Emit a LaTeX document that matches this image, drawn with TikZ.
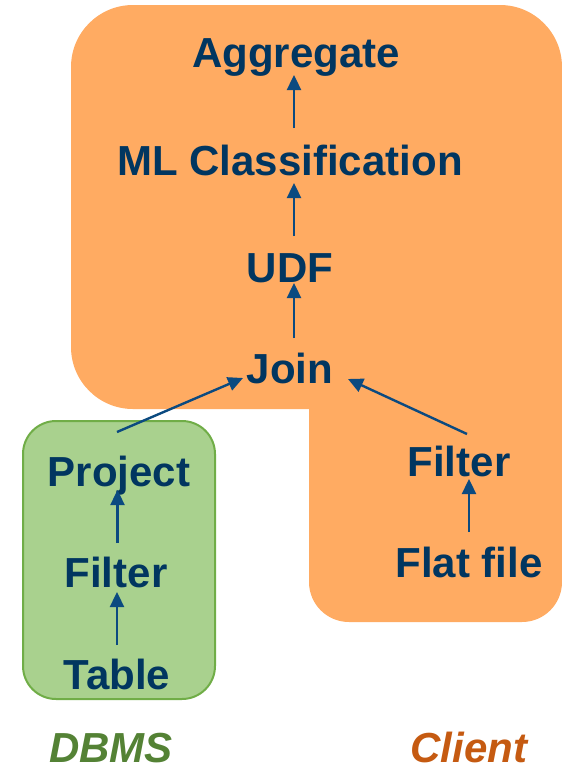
\documentclass[tikz,border=0pt]{standalone}
\usepackage{fontspec}
\setmainfont{Liberation Sans}
\usetikzlibrary{calc,arrows.meta}
\definecolor{clientfill}{HTML}{FFAB62}
\definecolor{dbmsfill}{HTML}{A9D18E}
\definecolor{dbmsline}{HTML}{70AD47}
\definecolor{optext}{HTML}{013660}
\definecolor{arrowcol}{HTML}{0B4A80}
\definecolor{dbmslabel}{HTML}{548235}
\definecolor{clientlabel}{HTML}{C55A11}
\tikzset{
  op/.style={font=\fontsize{42}{48}\selectfont\bfseries, text=optext, inner sep=0pt, anchor=base},
  region/.style={font=\fontsize{42}{48}\selectfont\bfseries\itshape, inner sep=0pt, anchor=base},
  flow/.style={draw=arrowcol, line width=2.4pt, -{Triangle[length=15pt,width=14pt]}},
}
\begin{document}
\begin{tikzpicture}[x=1pt,y=-1pt]
\useasboundingbox (0,0) rectangle (562,772);

% client side: two overlapping rounded regions
\fill[clientfill, rounded corners=62pt] (71,5) rectangle (562,409);
\fill[clientfill, rounded corners=40pt] (309,300) rectangle (562,622);

% DBMS side
\draw[fill=dbmsfill, draw=dbmsline, line width=2pt, rounded corners=33pt] (23,421) rectangle (215,699);

% operators
\node[op] (agg)   at (296,67)  {Aggregate};
\node[op] (ml)    at (290,175) {ML Classification};
\node[op] (udf)   at (290,282) {UDF};
\node[op] (join)  at (290,383) {Join};
\node[op] (filtc) at (459,476) {Filter};
\node[op] (flat)  at (469,577) {Flat file};
\node[op] (proj)  at (119,486) {Project};
\node[op] (filtd) at (116,587) {Filter};
\node[op] (tab)   at (117,689) {Table};

% region labels
\node[region, text=dbmslabel]   (dbms)   at (111,762) {DBMS};
\node[region, text=clientlabel] (client) at (469,762) {Client};

% data flow
\draw[flow] ($(ml.base)+(4,-47)$)    -- ($(agg.base)+(-2,8)$);
\draw[flow] ($(udf.base)+(4,-46)$)   -- ($(ml.base)+(4,8)$);
\draw[flow] ($(join.base)+(4,-45)$)  -- ($(udf.base)+(4,1)$);
\draw[flow] ($(proj.base)+(-2,-54)$) -- ($(join.base)+(-47,-5)$);
\draw[flow] ($(filtc.base)+(8,-42)$) -- ($(join.base)+(58,-4)$);
\draw[flow] ($(flat.base)+(0,-45)$)  -- ($(filtc.base)+(10,3)$);
\draw[flow] ($(filtd.base)+(1.5,-44)$) -- ($(proj.base)+(-1.5,4)$);
\draw[flow] ($(tab.base)+(0,-44)$)   -- ($(filtd.base)+(1,5)$);
\end{tikzpicture}
\end{document}
